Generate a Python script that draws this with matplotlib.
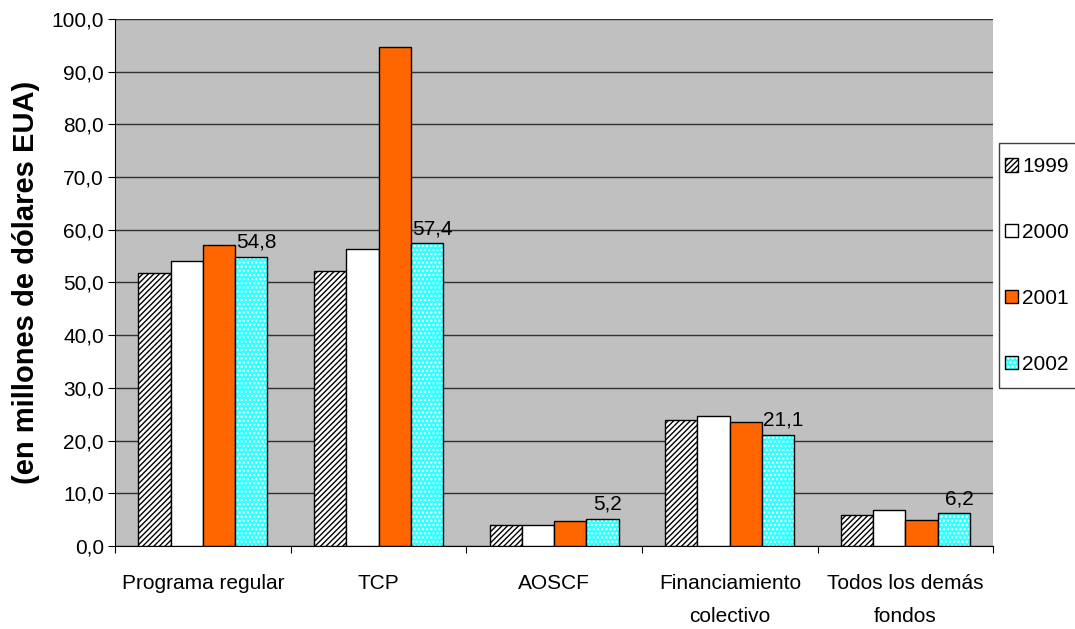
import numpy as np
import matplotlib.pyplot as plt
from matplotlib.patches import Patch, Rectangle
from matplotlib.legend_handler import HandlerTuple

plt.rcParams['font.family'] = ['Liberation Sans', 'DejaVu Sans']
plt.rcParams['hatch.linewidth'] = 1.0

categories = ["Programa regular", "TCP", "AOSCF", "Financiamiento\ncolectivo",
              "Todos los demás\nfondos"]
years = ["1999", "2000", "2001", "2002"]
v1999 = [51.7, 52.1, 4.0, 23.9, 5.9]
v2000 = [54.1, 56.4, 3.9, 24.7, 6.8]
v2001 = [57.1, 94.6, 4.7, 23.5, 5.0]
v2002 = [54.8, 57.4, 5.2, 21.1, 6.2]

W, H = 1075, 629
fig = plt.figure(figsize=(W / 100, H / 100), dpi=100)
ax = fig.add_axes([0.107, 0.132, 0.817, 0.838])
ax.set_facecolor("#c0c0c0")

x = np.arange(len(categories))
w = 0.184
offs = np.array([-1.5, -0.5, 0.5, 1.5]) * w

# 1999: black diagonal hatch on white
ax.bar(x + offs[0], v1999, w, facecolor="white", edgecolor="black",
       hatch="//////", linewidth=1, zorder=3)
# 2000: plain white
ax.bar(x + offs[1], v2000, w, facecolor="white", edgecolor="black",
       linewidth=1, zorder=3)
# 2001: orange
ax.bar(x + offs[2], v2001, w, facecolor="#ff6600", edgecolor="black",
       linewidth=1, zorder=3)
# 2002: cyan with white speckle, black outline drawn on top
ax.bar(x + offs[3], v2002, w, facecolor="#33ffff", edgecolor="white",
       hatch="....", linewidth=0, zorder=3)
ax.bar(x + offs[3], v2002, w, facecolor="none", edgecolor="black",
       linewidth=1, zorder=4)

for xi, v in zip(x + offs[3], v2002):
    ax.text(xi + 0.03, v + 1.0, f"{v:.1f}".replace(".", ","), ha="center",
            va="bottom", fontsize=15)

ax.set_xlim(-0.5, len(categories) - 0.5)
ax.set_ylim(0, 100)
ax.set_yticks(np.arange(0, 101, 10))
ax.set_yticklabels([f"{t:.1f}".replace(".", ",") for t in np.arange(0, 101, 10)],
                   fontsize=15)
ax.yaxis.grid(True, color="#303030", linewidth=1)
ax.set_axisbelow(True)

ax.set_xticks(np.arange(-0.5, len(categories), 1.0))
ax.set_xticklabels([])
ax.set_xticks(x, minor=True)
ax.set_xticklabels(categories, minor=True, fontsize=15, linespacing=1.95)
ax.tick_params(axis="x", which="minor", length=0, pad=20)
ax.tick_params(axis="x", which="major", length=5, direction="out")
ax.tick_params(axis="y", length=5, direction="out", pad=3)

for s in ["top", "right"]:
    ax.spines[s].set_visible(False)
ax.spines["left"].set_color("black")
ax.spines["bottom"].set_color("black")

ax.set_ylabel("(en millones de dólares EUA)", fontsize=21, fontweight="bold",
              labelpad=8)

# legend frame: tall box running off the right edge
fig.patches.append(Rectangle((999 / W, 1 - 388 / H), 0.2, 245 / H,
                             transform=fig.transFigure, facecolor="white",
                             edgecolor="#404040", linewidth=1, zorder=1))

handles = [
    Patch(facecolor="white", edgecolor="black", hatch="//////"),
    Patch(facecolor="white", edgecolor="black"),
    Patch(facecolor="#ff6600", edgecolor="black"),
    (Patch(facecolor="#33ffff", edgecolor="white", hatch="....", linewidth=0),
     Patch(facecolor="none", edgecolor="black")),
]
leg = fig.legend(handles, years, loc="upper left",
                 bbox_to_anchor=(999 / W, 1 - 151 / H),
                 fontsize=15, frameon=False,
                 handlelength=0.6, handleheight=0.6, handletextpad=0.2,
                 labelspacing=2.25, borderpad=0.3, borderaxespad=0,
                 handler_map={tuple: HandlerTuple(ndivide=1)})
leg.set_zorder(2)

fig.savefig("out.png", dpi=100)
